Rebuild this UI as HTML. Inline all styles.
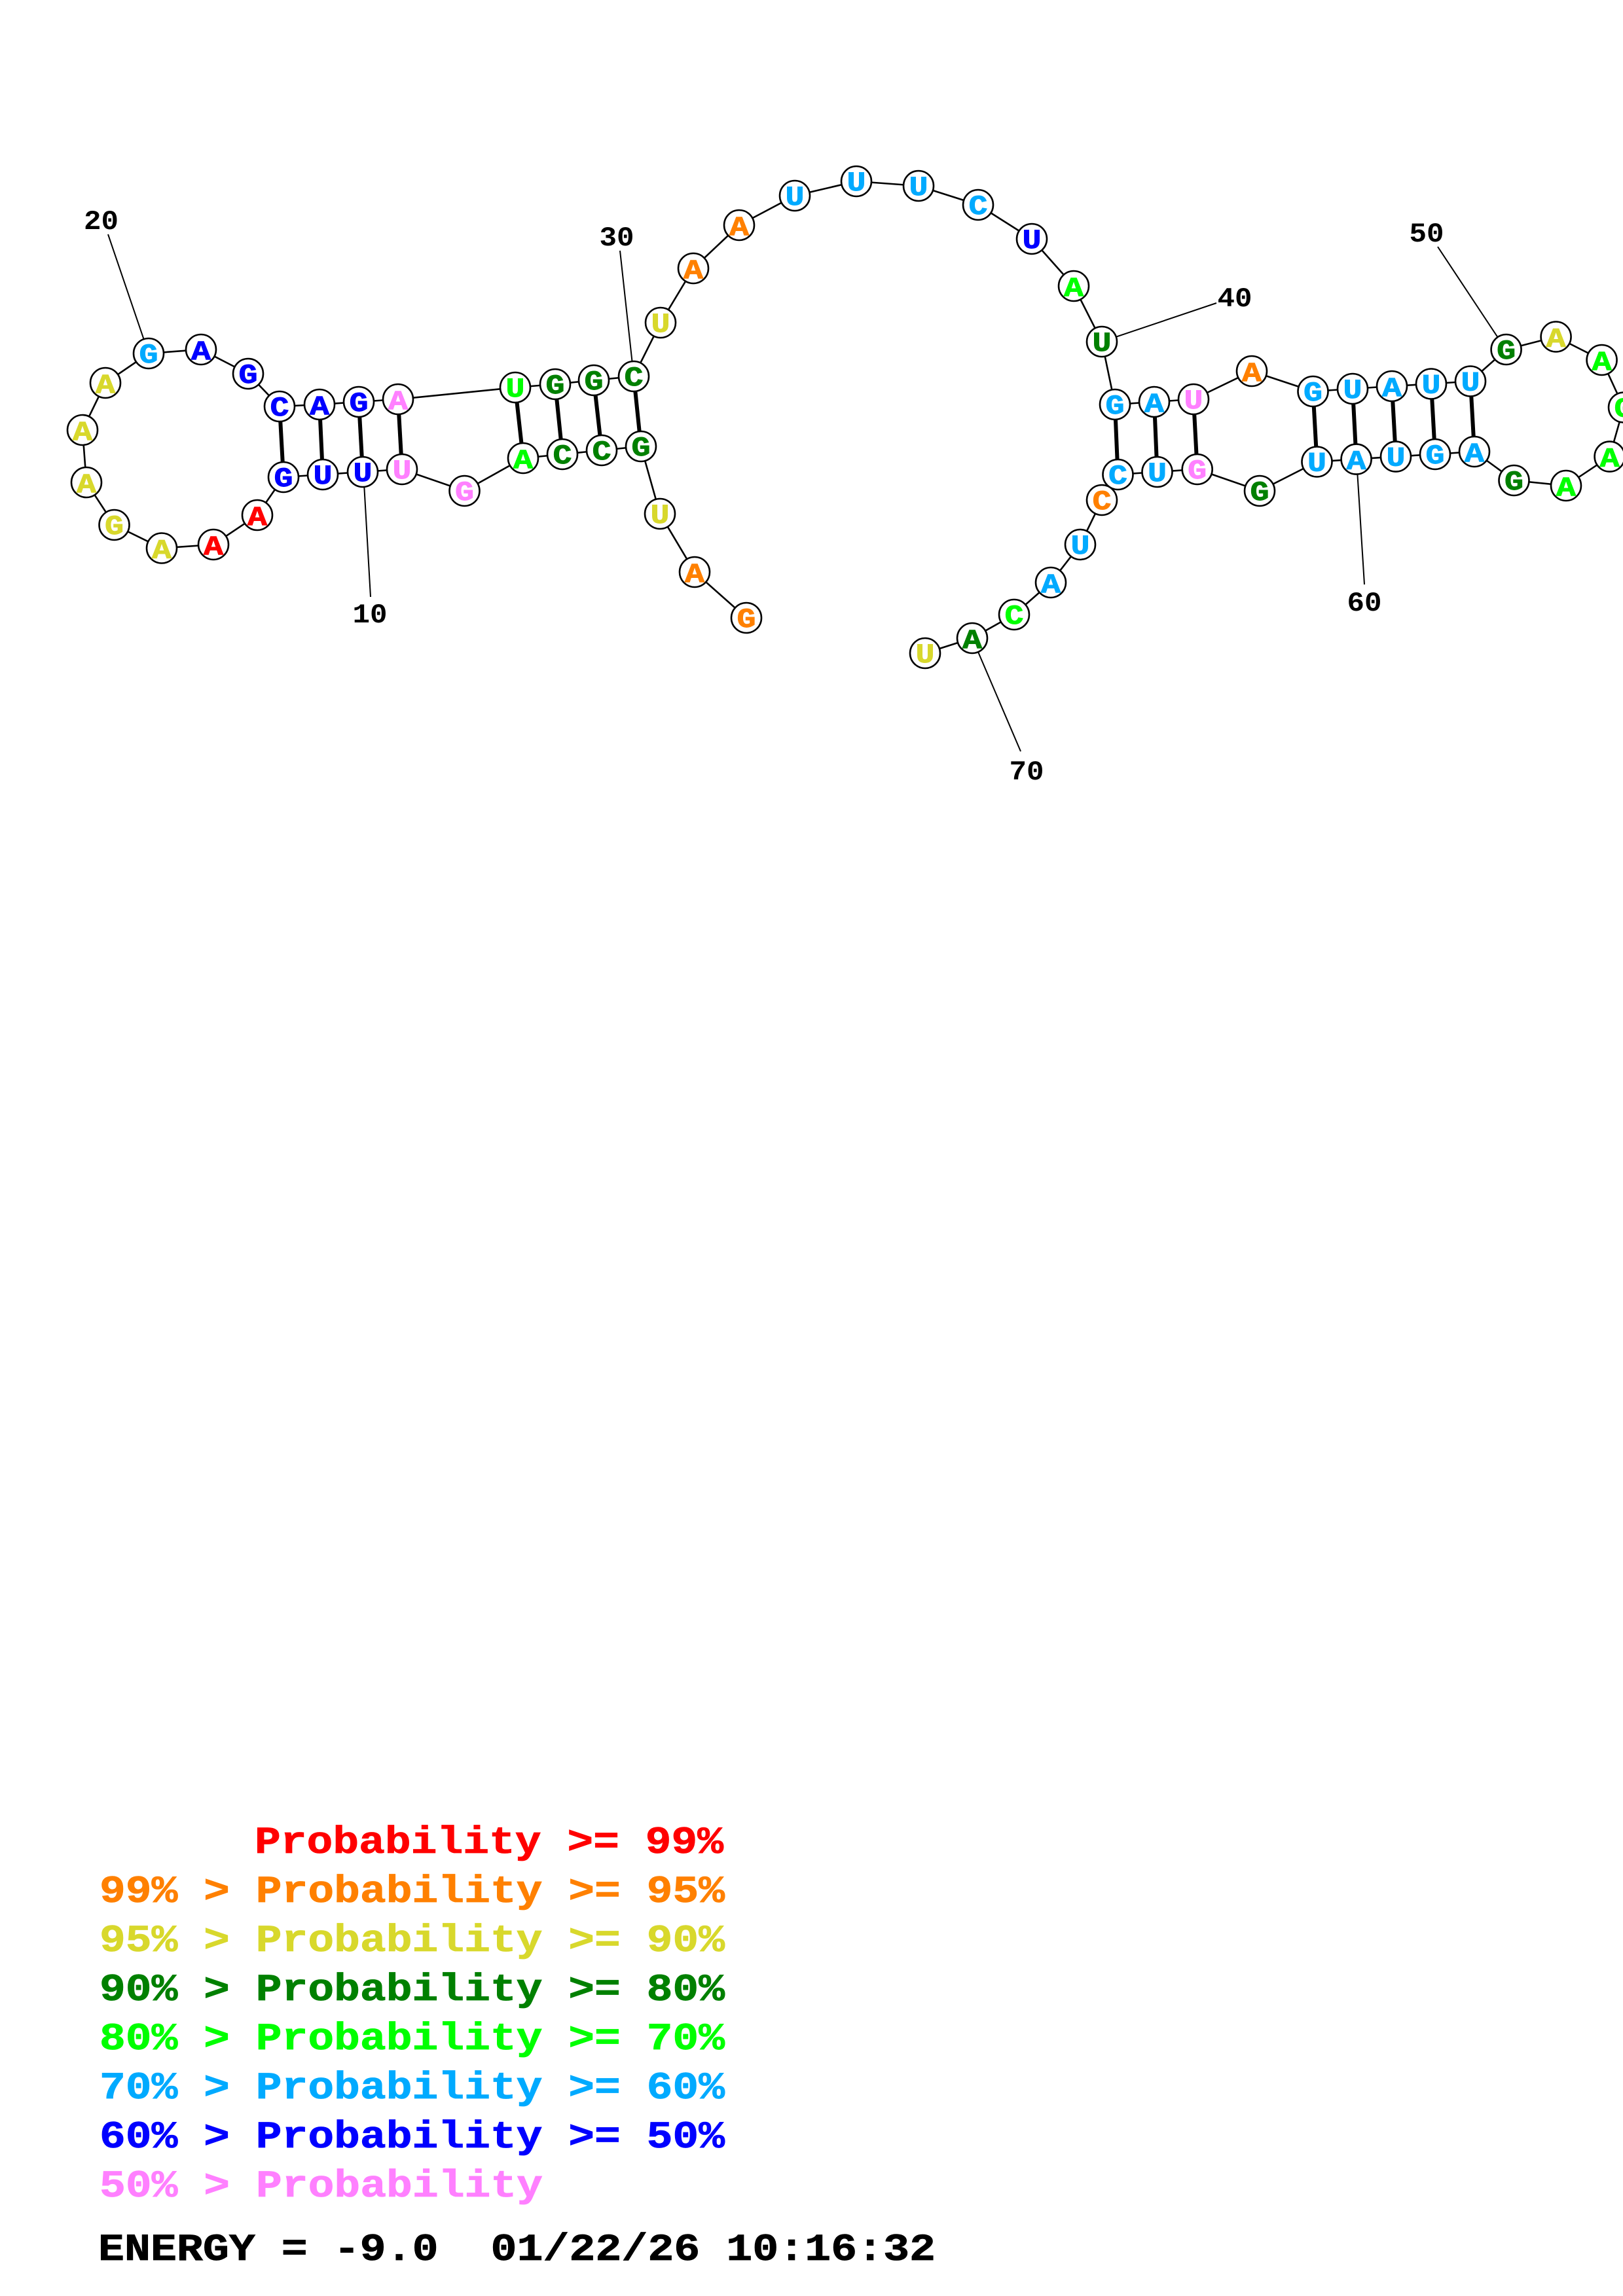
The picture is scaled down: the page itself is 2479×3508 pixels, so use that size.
<!DOCTYPE html>
<html><head><meta charset="utf-8"><style>
html,body{margin:0;padding:0;background:#fff}
svg{display:block}
.n text{font-family:"Liberation Mono",monospace;font-weight:bold;font-size:42px;text-anchor:middle;stroke-width:.9;paint-order:stroke}
.l{font-family:"Liberation Mono",monospace;font-weight:bold;font-size:42px;text-anchor:middle;fill:#000}
.g{font-family:"Liberation Mono",monospace;font-weight:bold;font-size:58px;stroke-width:.8}
circle{fill:#fff;stroke:#000;stroke-width:2.6}
.r{fill:#ff0000;stroke:#ff0000}.o{fill:#ff8000;stroke:#ff8000}.y{fill:#d8d82c;stroke:#d8d82c}.d{fill:#008000;stroke:#008000}.e{fill:#00ff00;stroke:#00ff00}.s{fill:#00aaff;stroke:#00aaff}.b{fill:#0000ff;stroke:#0000ff}.p{fill:#ff80ff;stroke:#ff80ff}
</style></head><body>
<svg xmlns="http://www.w3.org/2000/svg" width="2479" height="3508" viewBox="0 0 2479 3508">
<rect width="2479" height="3508" fill="#fff"/>
<g stroke="#000" stroke-width="2" fill="none">
<line x1="555" y1="721" x2="566" y2="912"/>
<line x1="165" y1="358" x2="227" y2="540"/>
<line x1="947" y1="383" x2="968" y2="575"/>
<line x1="1683" y1="522" x2="1858" y2="463"/>
<line x1="2196" y1="377" x2="2300" y2="534"/>
<line x1="2072" y1="702" x2="2084" y2="893"/>
<line x1="1485" y1="975" x2="1559" y2="1148"/>
</g>
<polyline fill="none" stroke="#000" stroke-width="2.6" points="1140,944 1061,874 1008,785 979,682 919,688 859,694 799,700 709.5,750 614,717 554,721 493,725 433,729 393,787 326,832 247,837.5 174.5,802 132,737 126,657 161,585 227,540 307,534 379,571 427,621 488,618 548,614 608,610 787,592 848,587 907,581 968,575 1009,493 1059,410 1129,344 1214,299 1308,277 1403,284 1494,313 1576,365 1640,437 1683,522 1703,618 1763,614 1823,610 1912,567 2005.5,598 2066,594 2126,590 2186,586.5 2246,582.5 2300.6,534 2376.6,514.5 2446.6,550 2480,622.5 2458.6,697.6 2392,742 2312.5,734 2252,690 2192,694 2132,697.6 2071.6,701.6 2011.5,705.5 1924,750 1828.7,717 1767.5,721 1707.5,725 1683,764 1650,832 1605,890 1549,939 1485,975 1413,998"/>
<g stroke="#000" stroke-width="6" fill="none">
<line x1="427" y1="621" x2="433" y2="729"/>
<line x1="488" y1="618" x2="493" y2="725"/>
<line x1="548" y1="614" x2="554" y2="721"/>
<line x1="608" y1="610" x2="614" y2="717"/>
<line x1="787" y1="592" x2="799" y2="700"/>
<line x1="848" y1="587" x2="859" y2="694"/>
<line x1="907" y1="581" x2="919" y2="688"/>
<line x1="968" y1="575" x2="979" y2="682"/>
<line x1="1703" y1="618" x2="1707.5" y2="725"/>
<line x1="1763" y1="614" x2="1767.5" y2="721"/>
<line x1="1823" y1="610" x2="1828.7" y2="717"/>
<line x1="2005.5" y1="598" x2="2011.5" y2="705.5"/>
<line x1="2066" y1="594" x2="2071.6" y2="701.6"/>
<line x1="2126" y1="590" x2="2132" y2="697.6"/>
<line x1="2186" y1="586.5" x2="2192" y2="694"/>
<line x1="2246" y1="582.5" x2="2252" y2="690"/>
</g>
<g>
<circle cx="1140" cy="944" r="23"/><circle cx="1061" cy="874" r="23"/><circle cx="1008" cy="785" r="23"/><circle cx="979" cy="682" r="23"/><circle cx="919" cy="688" r="23"/><circle cx="859" cy="694" r="23"/><circle cx="799" cy="700" r="23"/><circle cx="709.5" cy="750" r="23"/><circle cx="614" cy="717" r="23"/><circle cx="554" cy="721" r="23"/><circle cx="493" cy="725" r="23"/><circle cx="433" cy="729" r="23"/><circle cx="393" cy="787" r="23"/><circle cx="326" cy="832" r="23"/><circle cx="247" cy="837.5" r="23"/><circle cx="174.5" cy="802" r="23"/><circle cx="132" cy="737" r="23"/><circle cx="126" cy="657" r="23"/><circle cx="161" cy="585" r="23"/><circle cx="227" cy="540" r="23"/><circle cx="307" cy="534" r="23"/><circle cx="379" cy="571" r="23"/><circle cx="427" cy="621" r="23"/><circle cx="488" cy="618" r="23"/><circle cx="548" cy="614" r="23"/><circle cx="608" cy="610" r="23"/><circle cx="787" cy="592" r="23"/><circle cx="848" cy="587" r="23"/><circle cx="907" cy="581" r="23"/><circle cx="968" cy="575" r="23"/><circle cx="1009" cy="493" r="23"/><circle cx="1059" cy="410" r="23"/><circle cx="1129" cy="344" r="23"/><circle cx="1214" cy="299" r="23"/><circle cx="1308" cy="277" r="23"/><circle cx="1403" cy="284" r="23"/><circle cx="1494" cy="313" r="23"/><circle cx="1576" cy="365" r="23"/><circle cx="1640" cy="437" r="23"/><circle cx="1683" cy="522" r="23"/><circle cx="1703" cy="618" r="23"/><circle cx="1763" cy="614" r="23"/><circle cx="1823" cy="610" r="23"/><circle cx="1912" cy="567" r="23"/><circle cx="2005.5" cy="598" r="23"/><circle cx="2066" cy="594" r="23"/><circle cx="2126" cy="590" r="23"/><circle cx="2186" cy="586.5" r="23"/><circle cx="2246" cy="582.5" r="23"/><circle cx="2300.6" cy="534" r="23"/><circle cx="2376.6" cy="514.5" r="23"/><circle cx="2446.6" cy="550" r="23"/><circle cx="2480" cy="622.5" r="23"/><circle cx="2458.6" cy="697.6" r="23"/><circle cx="2392" cy="742" r="23"/><circle cx="2312.5" cy="734" r="23"/><circle cx="2252" cy="690" r="23"/><circle cx="2192" cy="694" r="23"/><circle cx="2132" cy="697.6" r="23"/><circle cx="2071.6" cy="701.6" r="23"/><circle cx="2011.5" cy="705.5" r="23"/><circle cx="1924" cy="750" r="23"/><circle cx="1828.7" cy="717" r="23"/><circle cx="1767.5" cy="721" r="23"/><circle cx="1707.5" cy="725" r="23"/><circle cx="1683" cy="764" r="23"/><circle cx="1650" cy="832" r="23"/><circle cx="1605" cy="890" r="23"/><circle cx="1549" cy="939" r="23"/><circle cx="1485" cy="975" r="23"/><circle cx="1413" cy="998" r="23"/>
</g>
<g class="n">
<text x="1140" y="958" textLength="29" lengthAdjust="spacingAndGlyphs" class="o">G</text>
<text x="1061" y="889" textLength="30" lengthAdjust="spacingAndGlyphs" class="o">A</text>
<text x="1008" y="799" textLength="29" lengthAdjust="spacingAndGlyphs" class="y">U</text>
<text x="979" y="696" textLength="29" lengthAdjust="spacingAndGlyphs" class="d">G</text>
<text x="919" y="702" textLength="29" lengthAdjust="spacingAndGlyphs" class="d">C</text>
<text x="859" y="708" textLength="29" lengthAdjust="spacingAndGlyphs" class="d">C</text>
<text x="799" y="715" textLength="30" lengthAdjust="spacingAndGlyphs" class="e">A</text>
<text x="709.5" y="764" textLength="29" lengthAdjust="spacingAndGlyphs" class="p">G</text>
<text x="614" y="731" textLength="29" lengthAdjust="spacingAndGlyphs" class="p">U</text>
<text x="554" y="735" textLength="29" lengthAdjust="spacingAndGlyphs" class="b">U</text>
<text x="493" y="739" textLength="29" lengthAdjust="spacingAndGlyphs" class="b">U</text>
<text x="433" y="743" textLength="29" lengthAdjust="spacingAndGlyphs" class="b">G</text>
<text x="393" y="802" textLength="30" lengthAdjust="spacingAndGlyphs" class="r">A</text>
<text x="326" y="847" textLength="30" lengthAdjust="spacingAndGlyphs" class="r">A</text>
<text x="247" y="852.5" textLength="30" lengthAdjust="spacingAndGlyphs" class="y">A</text>
<text x="174.5" y="816" textLength="29" lengthAdjust="spacingAndGlyphs" class="y">G</text>
<text x="132" y="752" textLength="30" lengthAdjust="spacingAndGlyphs" class="y">A</text>
<text x="126" y="672" textLength="30" lengthAdjust="spacingAndGlyphs" class="y">A</text>
<text x="161" y="600" textLength="30" lengthAdjust="spacingAndGlyphs" class="y">A</text>
<text x="227" y="554" textLength="29" lengthAdjust="spacingAndGlyphs" class="s">G</text>
<text x="307" y="549" textLength="30" lengthAdjust="spacingAndGlyphs" class="b">A</text>
<text x="379" y="585" textLength="29" lengthAdjust="spacingAndGlyphs" class="b">G</text>
<text x="427" y="635" textLength="29" lengthAdjust="spacingAndGlyphs" class="b">C</text>
<text x="488" y="633" textLength="30" lengthAdjust="spacingAndGlyphs" class="b">A</text>
<text x="548" y="628" textLength="29" lengthAdjust="spacingAndGlyphs" class="b">G</text>
<text x="608" y="625" textLength="30" lengthAdjust="spacingAndGlyphs" class="p">A</text>
<text x="787" y="606" textLength="29" lengthAdjust="spacingAndGlyphs" class="e">U</text>
<text x="848" y="601" textLength="29" lengthAdjust="spacingAndGlyphs" class="d">G</text>
<text x="907" y="595" textLength="29" lengthAdjust="spacingAndGlyphs" class="d">G</text>
<text x="968" y="589" textLength="29" lengthAdjust="spacingAndGlyphs" class="d">C</text>
<text x="1009" y="507" textLength="29" lengthAdjust="spacingAndGlyphs" class="y">U</text>
<text x="1059" y="425" textLength="30" lengthAdjust="spacingAndGlyphs" class="o">A</text>
<text x="1129" y="359" textLength="30" lengthAdjust="spacingAndGlyphs" class="o">A</text>
<text x="1214" y="313" textLength="29" lengthAdjust="spacingAndGlyphs" class="s">U</text>
<text x="1308" y="291" textLength="29" lengthAdjust="spacingAndGlyphs" class="s">U</text>
<text x="1403" y="298" textLength="29" lengthAdjust="spacingAndGlyphs" class="s">U</text>
<text x="1494" y="327" textLength="29" lengthAdjust="spacingAndGlyphs" class="s">C</text>
<text x="1576" y="379" textLength="29" lengthAdjust="spacingAndGlyphs" class="b">U</text>
<text x="1640" y="452" textLength="30" lengthAdjust="spacingAndGlyphs" class="e">A</text>
<text x="1683" y="536" textLength="29" lengthAdjust="spacingAndGlyphs" class="d">U</text>
<text x="1703" y="632" textLength="29" lengthAdjust="spacingAndGlyphs" class="s">G</text>
<text x="1763" y="629" textLength="30" lengthAdjust="spacingAndGlyphs" class="s">A</text>
<text x="1823" y="624" textLength="29" lengthAdjust="spacingAndGlyphs" class="p">U</text>
<text x="1912" y="582" textLength="30" lengthAdjust="spacingAndGlyphs" class="o">A</text>
<text x="2005.5" y="612" textLength="29" lengthAdjust="spacingAndGlyphs" class="s">G</text>
<text x="2066" y="608" textLength="29" lengthAdjust="spacingAndGlyphs" class="s">U</text>
<text x="2126" y="605" textLength="30" lengthAdjust="spacingAndGlyphs" class="s">A</text>
<text x="2186" y="600.5" textLength="29" lengthAdjust="spacingAndGlyphs" class="s">U</text>
<text x="2246" y="596.5" textLength="29" lengthAdjust="spacingAndGlyphs" class="s">U</text>
<text x="2300.6" y="548" textLength="29" lengthAdjust="spacingAndGlyphs" class="d">G</text>
<text x="2376.6" y="529.5" textLength="30" lengthAdjust="spacingAndGlyphs" class="y">A</text>
<text x="2446.6" y="565" textLength="30" lengthAdjust="spacingAndGlyphs" class="e">A</text>
<text x="2480" y="636.5" textLength="29" lengthAdjust="spacingAndGlyphs" class="e">G</text>
<text x="2458.6" y="712.6" textLength="30" lengthAdjust="spacingAndGlyphs" class="e">A</text>
<text x="2392" y="757" textLength="30" lengthAdjust="spacingAndGlyphs" class="e">A</text>
<text x="2312.5" y="748" textLength="29" lengthAdjust="spacingAndGlyphs" class="d">G</text>
<text x="2252" y="705" textLength="30" lengthAdjust="spacingAndGlyphs" class="s">A</text>
<text x="2192" y="708" textLength="29" lengthAdjust="spacingAndGlyphs" class="s">G</text>
<text x="2132" y="711.6" textLength="29" lengthAdjust="spacingAndGlyphs" class="s">U</text>
<text x="2071.6" y="716.6" textLength="30" lengthAdjust="spacingAndGlyphs" class="s">A</text>
<text x="2011.5" y="719.5" textLength="29" lengthAdjust="spacingAndGlyphs" class="s">U</text>
<text x="1924" y="764" textLength="29" lengthAdjust="spacingAndGlyphs" class="d">G</text>
<text x="1828.7" y="731" textLength="29" lengthAdjust="spacingAndGlyphs" class="p">G</text>
<text x="1767.5" y="735" textLength="29" lengthAdjust="spacingAndGlyphs" class="s">U</text>
<text x="1707.5" y="739" textLength="29" lengthAdjust="spacingAndGlyphs" class="s">C</text>
<text x="1683" y="778" textLength="29" lengthAdjust="spacingAndGlyphs" class="o">C</text>
<text x="1650" y="846" textLength="29" lengthAdjust="spacingAndGlyphs" class="s">U</text>
<text x="1605" y="905" textLength="30" lengthAdjust="spacingAndGlyphs" class="s">A</text>
<text x="1549" y="953" textLength="29" lengthAdjust="spacingAndGlyphs" class="e">C</text>
<text x="1485" y="990" textLength="30" lengthAdjust="spacingAndGlyphs" class="d">A</text>
<text x="1413" y="1012" textLength="29" lengthAdjust="spacingAndGlyphs" class="y">U</text>
</g>
<text class="l" x="565" y="951" textLength="53" lengthAdjust="spacingAndGlyphs">10</text>
<text class="l" x="154.5" y="350" textLength="53" lengthAdjust="spacingAndGlyphs">20</text>
<text class="l" x="942" y="375" textLength="53" lengthAdjust="spacingAndGlyphs">30</text>
<text class="l" x="1886" y="468" textLength="53" lengthAdjust="spacingAndGlyphs">40</text>
<text class="l" x="2179" y="369" textLength="53" lengthAdjust="spacingAndGlyphs">50</text>
<text class="l" x="2084" y="933" textLength="53" lengthAdjust="spacingAndGlyphs">60</text>
<text class="l" x="1568" y="1191" textLength="53" lengthAdjust="spacingAndGlyphs">70</text>
<g class="g" xml:space="preserve">
<text x="389" y="2831" class="r" textLength="716" lengthAdjust="spacingAndGlyphs">Probability &gt;= 99%</text>
<text x="152" y="2906" class="o" textLength="955" lengthAdjust="spacingAndGlyphs">99% &gt; Probability &gt;= 95%</text>
<text x="152" y="2981" class="y" textLength="955" lengthAdjust="spacingAndGlyphs">95% &gt; Probability &gt;= 90%</text>
<text x="152" y="3056" class="d" textLength="955" lengthAdjust="spacingAndGlyphs">90% &gt; Probability &gt;= 80%</text>
<text x="152" y="3131" class="e" textLength="955" lengthAdjust="spacingAndGlyphs">80% &gt; Probability &gt;= 70%</text>
<text x="152" y="3206" class="s" textLength="955" lengthAdjust="spacingAndGlyphs">70% &gt; Probability &gt;= 60%</text>
<text x="152" y="3281" class="b" textLength="955" lengthAdjust="spacingAndGlyphs">60% &gt; Probability &gt;= 50%</text>
<text x="152" y="3356" class="p" textLength="677" lengthAdjust="spacingAndGlyphs">50% &gt; Probability</text>
<text x="150" y="3453" fill="#000" stroke="#000" textLength="1279" lengthAdjust="spacingAndGlyphs" xml:space="preserve">ENERGY = -9.0  01/22/26 10:16:32</text>
</g>
</svg>
</body></html>
